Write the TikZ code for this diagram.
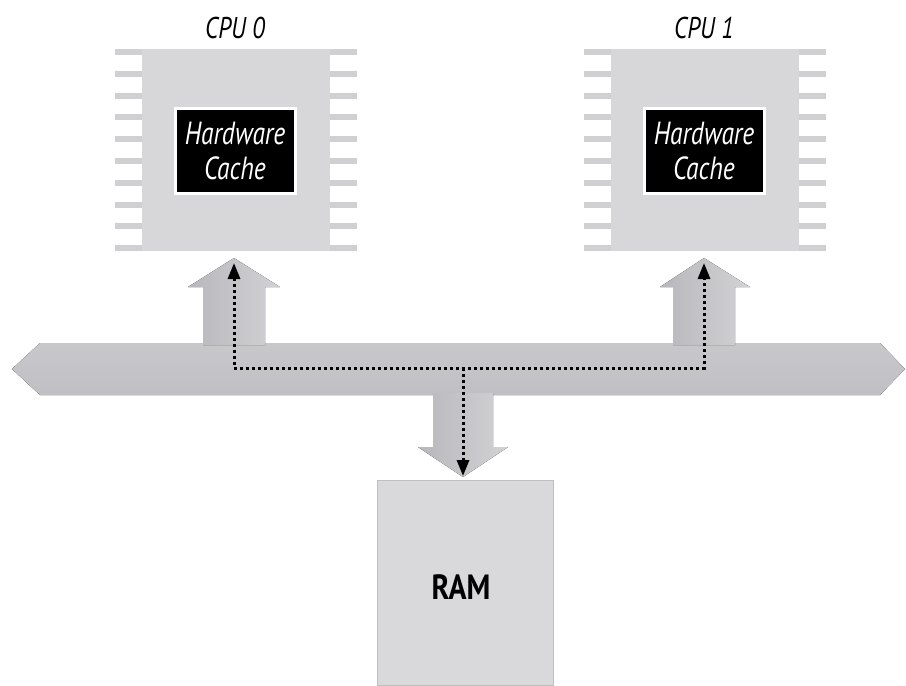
\documentclass[tikz,border=0pt]{standalone}
\usepackage{fontspec}
\newfontfamily\condit[FakeStretch=0.8]{PT Sans}
\newfontfamily\condb[FakeStretch=0.85]{PT Sans}
\usetikzlibrary{arrows.meta}
\definecolor{chipgray}{HTML}{D7D7D9}
\definecolor{pingray}{HTML}{D0D0D3}
\definecolor{busgray}{HTML}{C8C8CB}
\definecolor{busdark}{HTML}{C0C0C4}
\definecolor{arrowdark}{HTML}{B8B8BC}
\definecolor{arrowlight}{HTML}{D2D2D5}
\definecolor{ramgray}{HTML}{D9D9DB}
\tikzset{
  chipbody/.style={fill=chipgray, draw=none, minimum width=188pt, minimum height=202pt, inner sep=0pt},
  pin/.style={fill=pingray, draw=none},
  cachebox/.style={fill=black, draw=white, line width=3pt, minimum width=120pt, minimum height=85pt,
    text=white, align=center, font=\condit\itshape\fontsize{32}{35}\selectfont, inner sep=0pt},
  cpulabel/.style={font=\condit\itshape\fontsize{30}{32}\selectfont, anchor=base, inner sep=0pt},
  busshape/.style={top color=busgray, bottom color=busdark, draw=none},
  fatarrow/.style={left color=arrowdark, right color=arrowlight, draw=none},
  rambox/.style={fill=ramgray, draw=black!25, line width=1pt, minimum width=176pt, minimum height=205pt,
    inner sep=0pt},
  ramtext/.style={font=\condb\bfseries\fontsize{35}{40}\selectfont, inner sep=0pt},
  dotline/.style={line width=3pt, dash pattern=on 3pt off 3pt, black},
  tiph/.tip={Triangle[length=16pt,width=12pt]}
}
\begin{document}
\begin{tikzpicture}[x=1pt,y=-1pt]
\useasboundingbox (0,0) rectangle (906,686);
% bus
\fill[busshape] (40,343) -- (880,343) -- (905,369) -- (880,395) -- (40,395) -- (12,369) -- cycle;
% arrows
\fill[fatarrow] (203,345) -- (203,287) -- (188,287) -- (234,258) -- (280,287) -- (265,287) -- (265,345) -- cycle;
\fill[fatarrow] (673,345) -- (673,287) -- (660,287) -- (704,258) -- (750,287) -- (735,287) -- (735,345) -- cycle;
\fill[fatarrow] (433,393) -- (493,393) -- (493,447) -- (508,447) -- (463,477) -- (418,447) -- (433,447) -- cycle;
% CPU chips
\foreach \cx/\nm/\lab in {236/cpu0/CPU 0, 705/cpu1/CPU 1}{
  \foreach \i in {0,...,9}{
    \fill[pin] (\cx-121,49+\i*21.8) rectangle (\cx+121,55+\i*21.8);
  }
  \node[chipbody] (\nm) at (\cx,150) {};
  \node[cachebox] (\nm cache) at (\cx-1,150.5) {Hardware\\Cache};
  \node[cpulabel] (\nm label) at (\cx-1,38) {\lab};
}
% RAM
\node[rambox] (ram) at (465,582.5) {};
\node[ramtext] (ramlabel) at (461,587) {RAM};
% dotted data paths
\coordinate (t0) at (234,263);
\coordinate (b0) at (234,368);
\coordinate (b1) at (704,368);
\coordinate (t1) at (704,263);
\coordinate (bm) at (463,368);
\coordinate (tr) at (463,476);
\draw[dotline, tiph-tiph] (t0) -- (b0) -- (b1) -- (t1);
\draw[dotline, -tiph] (bm) -- (tr);
\end{tikzpicture}
\end{document}
